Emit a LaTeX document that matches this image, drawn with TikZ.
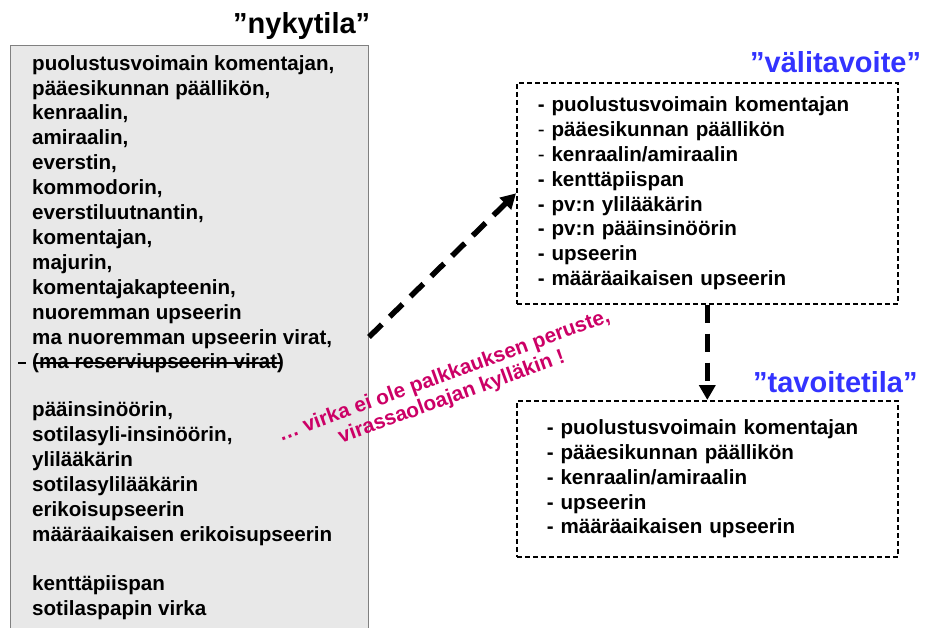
\documentclass[tikz,border=0pt]{standalone}
\usepackage{fontspec}
\setmainfont{Liberation Sans}
\usetikzlibrary{arrows.meta,calc}
\definecolor{titleblue}{HTML}{3333FF}
\definecolor{notemagenta}{HTML}{CC0066}
\definecolor{boxgray}{HTML}{E8E8E8}

\tikzset{
  title/.style={font=\bfseries\fontsize{29}{32}\selectfont, inner sep=0pt},
  body/.style={font=\bfseries\fontsize{20.6}{24.9}\selectfont, align=left},
  graybox/.style={draw=gray, line width=1pt, fill=boxgray},
  dashbox/.style={draw, line width=1.6pt, dash pattern=on 5pt off 3pt, body},
  strike/.style={line width=1.3pt},
  bigarrow/.style={->, line width=5.5pt, dash pattern=on 18pt off 11pt},
  note/.style={font=\bfseries\fontsize{20.8}{22.5}\selectfont, text=notemagenta, align=center, inner sep=0pt}
}

\begin{document}
\begin{tikzpicture}[x=1pt, y=-1pt, >={Triangle[width=16pt,length=15pt]}]
\useasboundingbox (0,0) rectangle (925,628);
\clip (0,0) rectangle (925,628);

% nykytila
\node[title, anchor=base west] (nykytitle) at (233,34) {”nykytila”};
\node[graybox, anchor=north west, minimum width=358pt, minimum height=620pt] (nyky) at (10,45) {};
\node[body, inner sep=0pt, anchor=north west] (nykylist) at (32,55) {%
  puolustusvoimain komentajan,\\
  pääesikunnan päällikön,\\
  kenraalin,\\
  amiraalin,\\
  everstin,\\
  kommodorin,\\
  everstiluutnantin,\\
  komentajan,\\
  majurin,\\
  komentajakapteenin,\\
  nuoremman upseerin\\
  ma nuoremman upseerin virat,\\
  (ma reserviupseerin virat)\\[23pt]
  pääinsinöörin,\\
  sotilasyli-insinöörin,\\
  ylilääkärin\\
  sotilasylilääkärin\\
  erikoisupseerin\\
  määräaikaisen erikoisupseerin\\[24pt]
  kenttäpiispan\\
  sotilaspapin virka};
\draw[strike] (18,363) -- (26,363);
\draw[strike] (33,363) -- (282,363);

% valitavoite
\node[title, text=titleblue, anchor=base west] (valititle) at (750,73) {”välitavoite”};
\node[dashbox, anchor=north west, minimum width=381pt, minimum height=221pt,
      text width=339pt, inner xsep=21pt] (vali) at (516,82) {%
  - puolustusvoimain komentajan\\
  {\mdseries -} pääesikunnan päällikön\\
  {\mdseries -} kenraalin/amiraalin\\
  - kenttäpiispan\\
  - pv:n ylilääkärin\\
  - pv:n pääinsinöörin\\
  - upseerin\\
  - määräaikaisen upseerin};

% tavoitetila
\node[title, text=titleblue, anchor=base west] (tavotitle) at (753,392) {”tavoitetila”};
\node[dashbox, anchor=north west, minimum width=381pt, minimum height=156pt,
      text width=321pt, inner xsep=30pt] (tavo) at (516,400) {%
  - puolustusvoimain komentajan\\
  - pääesikunnan päällikön\\
  - kenraalin/amiraalin\\
  - upseerin\\
  - määräaikaisen upseerin};

% siirtymat
\coordinate (nykyout) at ($(nyky.north east)+(0,292)$);
\draw[bigarrow] (nykyout) -- (vali.west);
\draw[bigarrow] (vali.south) -- (tavo.north);

\node[note, rotate=20] (huom) at (448,387) {… virka ei ole palkkauksen peruste,\\virassaoloajan kylläkin !};
\end{tikzpicture}
\end{document}
